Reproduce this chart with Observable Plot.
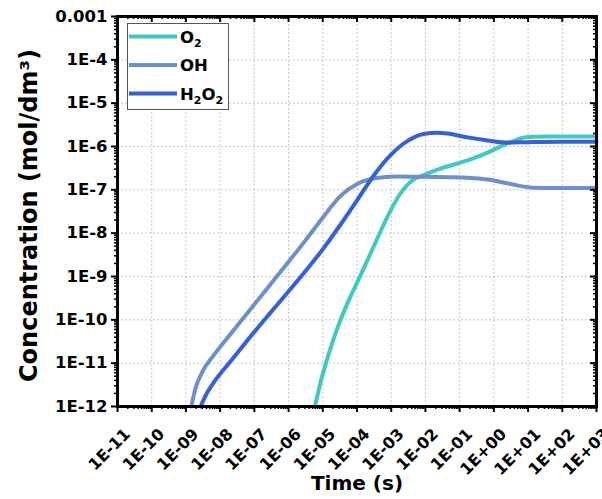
<!DOCTYPE html>
<html>
<head>
<meta charset="utf-8">
<script src="https://cdn.jsdelivr.net/npm/d3@7"></script>
<script src="https://cdn.jsdelivr.net/npm/@observablehq/plot@0.6"></script>
<style>
  html, body { margin: 0; padding: 0; background: #fff; }
  #chart { width: 602px; height: 499px; }
</style>
</head>
<body>
<div id="chart"></div>
<script>
// ---- tick values and labels ----
const timeTicks = [1e-11, 1e-10, 1e-9, 1e-8, 1e-7, 1e-6, 1e-5, 1e-4, 1e-3, 1e-2, 1e-1, 1e0, 1e1, 1e2, 1e3];
const timeTickLabels = ["1E-11", "1E-10", "1E-09", "1E-08", "1E-07", "1E-06", "1E-05", "1E-04", "1E-03", "1E-02", "1E-01", "1E+00", "1E+01", "1E+02", "1E+03"];
const concTicks = [1e-12, 1e-11, 1e-10, 1e-9, 1e-8, 1e-7, 1e-6, 1e-5, 1e-4, 1e-3];
const concTickLabels = ["1E-12", "1E-11", "1E-10", "1E-9", "1E-8", "1E-7", "1E-6", "1E-5", "1E-4", "0.001"];

// ---- series (log10 of time in s, log10 of concentration in mol/dm3) ----
const seriesNames = ["O2", "OH", "H2O2"];
const seriesColors = ["#3fc9c2", "#6b91cb", "#3461da"];

const o2LogTime = [-5.23, -5.05, -4.85, -4.60, -4.28, -3.90, -3.52, -3.02, -2.72, -2.52, -2.30, -2.06, -1.56, -0.77, -0.18, 0.40, 0.98, 1.5, 2.0, 3.0];
const o2LogConc = [-12.0, -11.40, -10.85, -10.25, -9.62, -8.98, -8.32, -7.48, -7.07, -6.88, -6.74, -6.66, -6.51, -6.32, -6.14, -5.93, -5.78, -5.77, -5.77, -5.77];

const ohLogTime = [-8.84, -8.72, -8.52, -8.19, -7.70, -7.20, -6.62, -6.03, -5.50, -4.98, -4.48, -3.98, -3.52, -2.82, -2.06, -1.35, -0.77, -0.18, 0.40, 1.16, 2.0, 3.0];
const ohLogConc = [-12.0, -11.58, -11.20, -10.82, -10.33, -9.84, -9.27, -8.69, -8.16, -7.62, -7.14, -6.86, -6.74, -6.69, -6.70, -6.71, -6.72, -6.76, -6.85, -6.95, -6.96, -6.96];

const h2o2LogTime = [-8.57, -8.42, -8.19, -7.70, -7.20, -6.62, -6.03, -5.45, -4.98, -4.48, -3.98, -3.52, -3.02, -2.52, -2.06, -1.65, -1.35, -0.77, -0.18, 0.40, 1.0, 2.0, 3.0];
const h2o2LogConc = [-12.0, -11.74, -11.45, -10.96, -10.47, -9.92, -9.37, -8.82, -8.35, -7.80, -7.22, -6.68, -6.20, -5.87, -5.71, -5.68, -5.70, -5.79, -5.86, -5.91, -5.90, -5.89, -5.89];

const xTitle = "Time (s)";
const yTitle = "Concentration (mol/dm³)";

// ---- build table ----
const rows = [];
[[o2LogTime, o2LogConc], [ohLogTime, ohLogConc], [h2o2LogTime, h2o2LogConc]].forEach(([lt, lc], s) => {
  lt.forEach((t, i) => rows.push({series: seriesNames[s], time: Math.pow(10, t), conc: Math.pow(10, lc[i])}));
});

// minor (log) tick positions
function minors(lo, hi) {
  const out = [];
  for (let d = lo; d < hi; d++) for (let k = 2; k <= 9; k++) out.push(k * Math.pow(10, d));
  return out;
}
const timeMinor = minors(-11, 3);
const concMinor = minors(-12, -3);

const W = 602, H = 499, ML = 117, MR = 6, MT = 16, MB = 93;
const FW = W - ML - MR, FH = H - MT - MB;

const chart = Plot.plot({
  width: W,
  height: H,
  marginLeft: ML,
  marginRight: MR,
  marginTop: MT,
  marginBottom: MB,
  style: {fontFamily: "'DejaVu Sans', sans-serif", fontWeight: "bold", fontSize: "16px", color: "#000", background: "#fff"},
  x: {type: "log", domain: [1e-11, 1e3]},
  y: {type: "log", domain: [1e-12, 1e-3]},
  color: {domain: seriesNames, range: seriesColors},
  marks: [
    Plot.gridX({ticks: timeTicks, stroke: "#999", strokeOpacity: 0.55, strokeDasharray: "2,2", strokeWidth: 1}),
    Plot.gridY({ticks: concTicks, stroke: "#999", strokeOpacity: 0.55, strokeDasharray: "2,2", strokeWidth: 1}),
    Plot.line(rows, {x: "time", y: "conc", z: "series", stroke: "series", strokeWidth: 4, curve: "monotone-x"}),
    // bottom axis: outward ticks
    Plot.axisX({ticks: timeTicks, tickSize: 6, strokeWidth: 2, tickFormat: () => "", label: null}),
    Plot.axisX({ticks: timeMinor, tickSize: 3, strokeWidth: 1.5, tickFormat: () => "", label: null}),
    // top axis: inward ticks
    Plot.ruleX(timeTicks, {x: d => d, insetBottom: FH - 6, stroke: "#000", strokeWidth: 2}),
    Plot.ruleX(timeMinor, {x: d => d, insetBottom: FH - 3, stroke: "#000", strokeWidth: 1.5}),
    // left axis
    Plot.axisY({ticks: concTicks, tickSize: 6, tickPadding: 4, strokeWidth: 2, fontSize: 16.5, tickFormat: d => concTickLabels[concTicks.indexOf(d)], label: null}),
    Plot.axisY({ticks: concMinor, tickSize: 3, strokeWidth: 1.5, tickFormat: () => "", label: null}),
    // right axis: inward ticks
    Plot.ruleY(concTicks, {y: d => d, insetLeft: FW - 6, stroke: "#000", strokeWidth: 2}),
    Plot.ruleY(concMinor, {y: d => d, insetLeft: FW - 3, stroke: "#000", strokeWidth: 1.5}),
    Plot.frame({stroke: "#000", strokeWidth: 3}),
    // rotated x tick labels
    Plot.text(timeTicks, {x: d => d, text: (d, i) => timeTickLabels[i], frameAnchor: "bottom", rotate: -45, textAnchor: "end", lineAnchor: "middle", dx: 10, dy: 25, fontSize: 16, fill: "#000"}),
    // axis titles
    Plot.text([xTitle], {text: d => d, frameAnchor: "bottom", textAnchor: "middle", lineAnchor: "middle", dy: 77, fontSize: 20, fill: "#000"}),
    Plot.text([yTitle], {text: d => d, frameAnchor: "left", textAnchor: "middle", rotate: -90, lineAnchor: "middle", dx: -88, dy: 4, fontSize: 24, fill: "#000"})
  ]
});

document.getElementById("chart").appendChild(chart);

// ---- legend inside plot (upper-left) ----
const legendParts = [[["O", ""], ["2", "sub"]], [["OH", ""]], [["H", ""], ["2", "sub"], ["O", ""], ["2", "sub"]]];
const svg = d3.select(chart);
const lg = svg.append("g").attr("class", "legend");
lg.append("rect")
  .attr("x", 127.5).attr("y", 23.5).attr("width", 101).attr("height", 86)
  .attr("fill", "#fff").attr("stroke", "#555").attr("stroke-width", 1);
seriesNames.forEach((name, i) => {
  const y = 36.5 + i * 28.5;
  lg.append("line")
    .attr("x1", 129).attr("x2", 177).attr("y1", y).attr("y2", y)
    .attr("stroke", seriesColors[i]).attr("stroke-width", 4);
  const t = lg.append("text")
    .attr("x", 180).attr("y", y + 6)
    .attr("text-anchor", "start")
    .attr("font-size", 16.5).attr("font-weight", "bold").attr("fill", "#000");
  let prevSub = false;
  legendParts[i].forEach(([s, kind]) => {
    const sp = t.append("tspan").text(s);
    if (kind === "sub") { sp.attr("font-size", 11).attr("dy", 4); prevSub = true; }
    else if (prevSub) { sp.attr("dy", -4); prevSub = false; }
  });
});
</script>
</body>
</html>
